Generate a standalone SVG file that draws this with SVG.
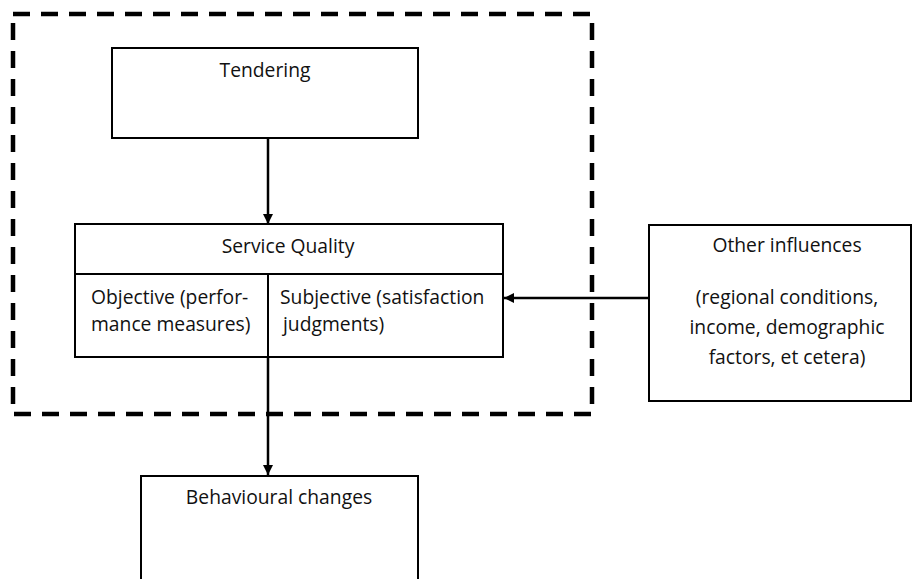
<svg xmlns="http://www.w3.org/2000/svg" width="913" height="579" viewBox="0 0 913 579">
<style>
.box{fill:#fff;stroke:#000;stroke-width:2}
.t{font-family:"Open Sans","Noto Sans",sans-serif;font-size:19.3px;fill:#111}
.c{text-anchor:middle}
.conn{stroke:#000;stroke-width:2.5;fill:none}
</style>
<defs>
<marker id="ah" markerWidth="10" markerHeight="10" refX="10" refY="5" orient="auto" markerUnits="userSpaceOnUse" viewBox="0 0 10 10">
<path d="M0,0 L10,5 L0,10 z" fill="#000"/>
</marker>
</defs>
<rect x="13" y="14" width="579" height="400" fill="none" stroke="#000" stroke-width="4.5" stroke-dasharray="17,11"/>
<g id="tendering">
<rect class="box" x="112" y="48" width="306" height="90"/>
<text class="t c" x="265" y="77">Tendering</text>
</g>
<g id="service-quality">
<rect class="box" x="75" y="224" width="428" height="133"/>
<line x1="75" y1="274" x2="503" y2="274" stroke="#000" stroke-width="2"/>
<line x1="268" y1="274" x2="268" y2="357" stroke="#000" stroke-width="2"/>
<text class="t c" x="288" y="253">Service Quality</text>
<text class="t" x="91" y="304">Objective (perfor-</text>
<text class="t" x="91" y="331">mance measures)</text>
<text class="t" x="280" y="304">Subjective (satisfaction</text>
<text class="t" x="283" y="331">judgments)</text>
</g>
<g id="other-influences">
<rect class="box" x="649" y="225" width="262" height="176"/>
<text class="t c" x="787" y="252">Other influences</text>
<text class="t c" x="787" y="304">(regional conditions,</text>
<text class="t c" x="787" y="334">income, demographic</text>
<text class="t c" x="787" y="364">factors, et cetera)</text>
</g>
<g id="behavioural-changes">
<rect class="box" x="141" y="476" width="277" height="120"/>
<text class="t c" x="279" y="504">Behavioural changes</text>
</g>
<g id="connectors">
<line class="conn" x1="268" y1="138" x2="268" y2="224" marker-end="url(#ah)"/>
<line class="conn" x1="649" y1="298" x2="504" y2="298" marker-end="url(#ah)"/>
<line class="conn" x1="268" y1="357" x2="268" y2="475" marker-end="url(#ah)"/>
</g>
</svg>
